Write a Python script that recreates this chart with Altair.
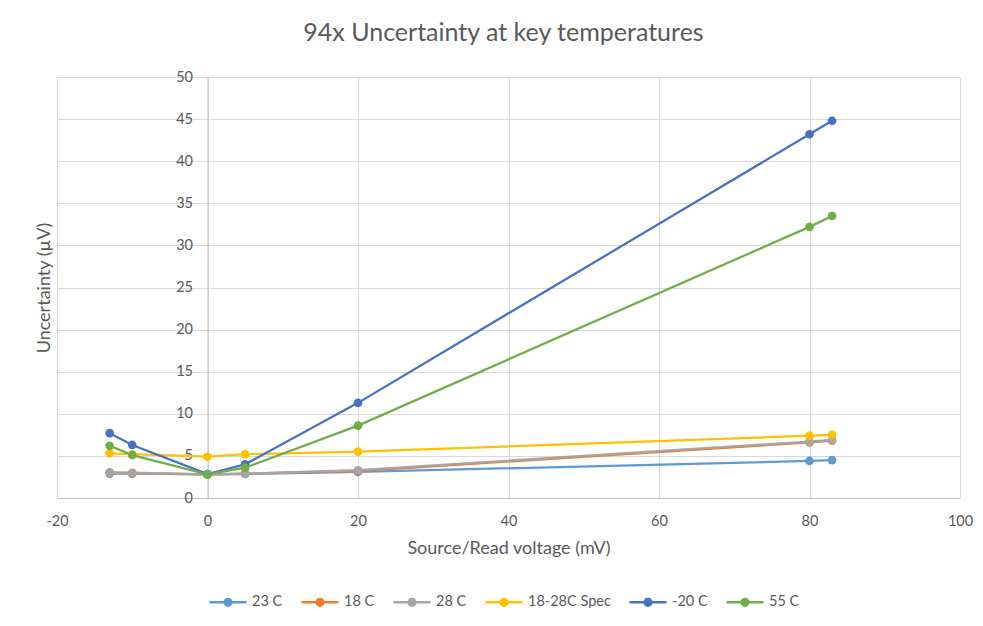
import altair as alt
import pandas as pd

x_vals = [-13, -10, 0, 5, 20, 80, 83]
series_names = ["23 C", "18 C", "28 C", "18-28C Spec", "-20 C", "55 C"]
s23 = [2.9, 2.9, 2.8, 2.85, 3.1, 4.4, 4.5]
s18 = [3.0, 2.95, 2.8, 2.9, 3.2, 6.6, 6.8]
s28 = [3.05, 3.0, 2.8, 2.9, 3.3, 6.7, 6.9]
spec = [5.3, 5.2, 4.9, 5.2, 5.5, 7.4, 7.5]
m20 = [7.7, 6.3, 2.85, 4.0, 11.3, 43.2, 44.8]
s55 = [6.2, 5.1, 2.8, 3.6, 8.6, 32.2, 33.5]
colors = ["#5B9BD5", "#ED7D31", "#A5A5A5", "#FFC000", "#4472C4", "#70AD47"]

rows = []
for name, vals in zip(series_names, [s23, s18, s28, spec, m20, s55]):
    for i, (xv, yv) in enumerate(zip(x_vals, vals)):
        rows.append({"series": name, "x": xv, "y": yv, "i": i})
df = pd.DataFrame(rows)

FONT = "Lato"
GREY = "#595959"

legend_path = "M-1,0L1,0M-0.18,0A0.18,0.18,0,1,0,0.18,0A0.18,0.18,0,1,0,-0.18,0Z"

chart = alt.Chart(df).mark_line(
    strokeWidth=2.25,
    point=alt.OverlayMarkDef(filled=True, size=75, opacity=1),
).encode(
    x=alt.X("x:Q",
            scale=alt.Scale(domain=[-20, 100], nice=False, zero=False),
            axis=alt.Axis(values=[-20, 0, 20, 40, 60, 80, 100],
                          title="Source/Read voltage (mV)",
                          labelExpr="datum.value < 0 ? '-' + abs(datum.value) : '' + datum.value",
                          labelFlush=False, labelOverlap=False,
                          labelPadding=16, titlePadding=12)),
    y=alt.Y("y:Q",
            scale=alt.Scale(domain=[0, 50], nice=False),
            axis=alt.Axis(values=list(range(0, 55, 5)), offset=-150.5,
                          title="Uncertainty (µV)", titleX=-154, titleY=210.5,
                          titleAlign="center", labelPadding=15, labelFlush=False)),
    color=alt.Color("series:N",
                    scale=alt.Scale(domain=series_names, range=colors),
                    sort=series_names,
                    legend=alt.Legend(title=None, orient="none", direction="horizontal",
                                      legendX=151, legendY=505,
                                      symbolType=legend_path, symbolSize=1369,
                                      symbolStrokeWidth=2.5, labelOffset=4,
                                      columnPadding=13,
                                      labelFontSize=14.5, labelColor=GREY, labelFont=FONT)),
    order="i:Q",
).properties(
    width=903, height=421,
    background="white",
    title=alt.TitleParams("94x Uncertainty at key temperatures", fontSize=25,
                          color=GREY, font=FONT, fontWeight="normal", offset=23, dx=-5),
    autosize=alt.AutoSizeParams(type="none"),
    padding={"left": 49, "top": 69, "right": 15, "bottom": 110},
).configure_axis(
    grid=True, gridColor="#D9D9D9", gridWidth=1,
    domainColor="#BFBFBF", domainWidth=1, ticks=False,
    labelFont=FONT, labelFontSize=14.5, labelColor=GREY,
    titleFont=FONT, titleFontSize=18, titleColor=GREY, titleFontWeight="normal",
).configure_view(stroke=None)

chart.save("out.html", embed_options={"renderer": "svg", "actions": False})
